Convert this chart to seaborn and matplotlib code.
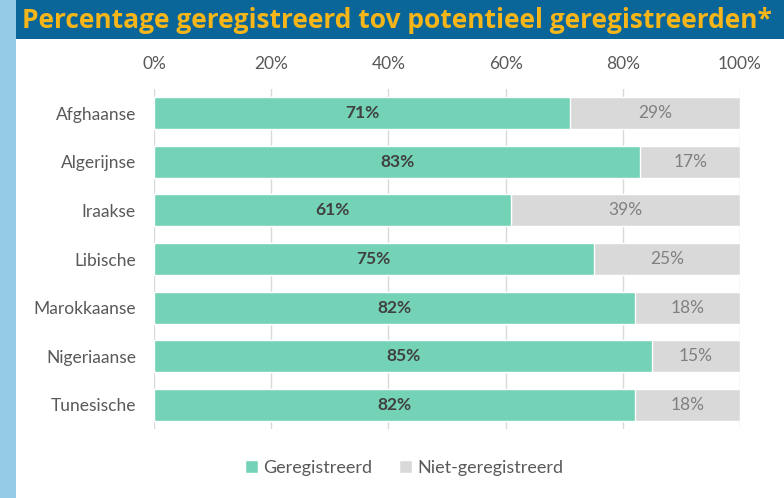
import matplotlib
matplotlib.use("Agg")
import matplotlib.pyplot as plt
from matplotlib.patches import Rectangle
import seaborn as sns
import pandas as pd

categories = ["Afghaanse", "Algerijnse", "Iraakse", "Libische",
              "Marokkaanse", "Nigeriaanse", "Tunesische"]
geregistreerd = [71, 83, 61, 75, 82, 85, 82]
niet_geregistreerd = [29, 17, 39, 25, 18, 15, 18]
x_ticks = [0, 20, 40, 60, 80, 100]
x_tick_labels = ["0%", "20%", "40%", "60%", "80%", "100%"]
title = "Percentage geregistreerd tov potentieel geregistreerden*"

GREEN = "#74d2b6"
GREY = "#d9d9d9"

sns.set_theme(style="white")
plt.rcParams["font.family"] = ["Lato", "DejaVu Sans"]

df = pd.DataFrame({
    "land": categories,
    "geregistreerd": geregistreerd,
    "niet": niet_geregistreerd,
})
df["totaal"] = df["geregistreerd"] + df["niet"]

W, H = 784, 498
fig = plt.figure(figsize=(W / 100, H / 100), dpi=100)
fig.patch.set_facecolor("white")

# side strip and title banner
fig.add_artist(Rectangle((0, 0), 16 / W, 1, transform=fig.transFigure,
                         facecolor="#96cbe8", edgecolor="none", zorder=0))
fig.add_artist(Rectangle((16 / W, 1 - 39 / H), 1 - 16 / W, 39 / H,
                         transform=fig.transFigure, facecolor="#0a6699",
                         edgecolor="none", zorder=0))
fig.text(22 / W, 1 - 21 / H, title, color="#f6b519", fontsize=19,
         fontweight="bold", va="center", ha="left",
         family=["Open Sans", "DejaVu Sans"])

ax_left, ax_right = 154 / W, 740 / W
ax_top, ax_bottom = 1 - 88.7 / H, 1 - 429.3 / H
ax = fig.add_axes([ax_left, ax_bottom, ax_right - ax_left, ax_top - ax_bottom])

sns.barplot(data=df, x="totaal", y="land", orient="h", color=GREY,
            width=0.66, ax=ax, label="Niet-geregistreerd", saturation=1,
            zorder=2)
sns.barplot(data=df, x="geregistreerd", y="land", orient="h", color=GREEN,
            width=0.66, ax=ax, label="Geregistreerd", saturation=1, zorder=3)

for i, (g, n) in enumerate(zip(geregistreerd, niet_geregistreerd)):
    ax.text(g / 2, i, f"{g}%", ha="center", va="center", fontsize=12.5,
            fontweight="bold", color="#404040", zorder=5)
    ax.text(g + n / 2, i, f"{n}%", ha="center", va="center", fontsize=12.5,
            color="#808080", zorder=5)

ax.set_xlim(0, 100)
ax.set_xticks(x_ticks)
ax.set_xticklabels(x_tick_labels)
ax.xaxis.tick_top()
ax.grid(axis="x", color="#d9d9d9", linewidth=1, zorder=0)
ax.set_axisbelow(True)
for s in ax.spines.values():
    s.set_visible(False)
ax.set_xlabel("")
ax.set_ylabel("")
ax.tick_params(axis="x", length=0, pad=12, labelsize=12.5, labelcolor="#595959")
ax.tick_params(axis="y", length=0, pad=13, labelsize=12.5, labelcolor="#595959")

handles, labels = ax.get_legend_handles_labels()
order = [labels.index("Geregistreerd"), labels.index("Niet-geregistreerd")]
leg = ax.legend([handles[k] for k in order], [labels[k] for k in order],
                loc="center", bbox_to_anchor=(404 / W, 1 - 468 / H),
                bbox_transform=fig.transFigure, ncol=2, frameon=False,
                fontsize=13, handlelength=0.7, handleheight=0.7,
                handletextpad=0.3, columnspacing=1.5)
for t in leg.get_texts():
    t.set_color("#595959")

fig.savefig("out.png", dpi=100)
